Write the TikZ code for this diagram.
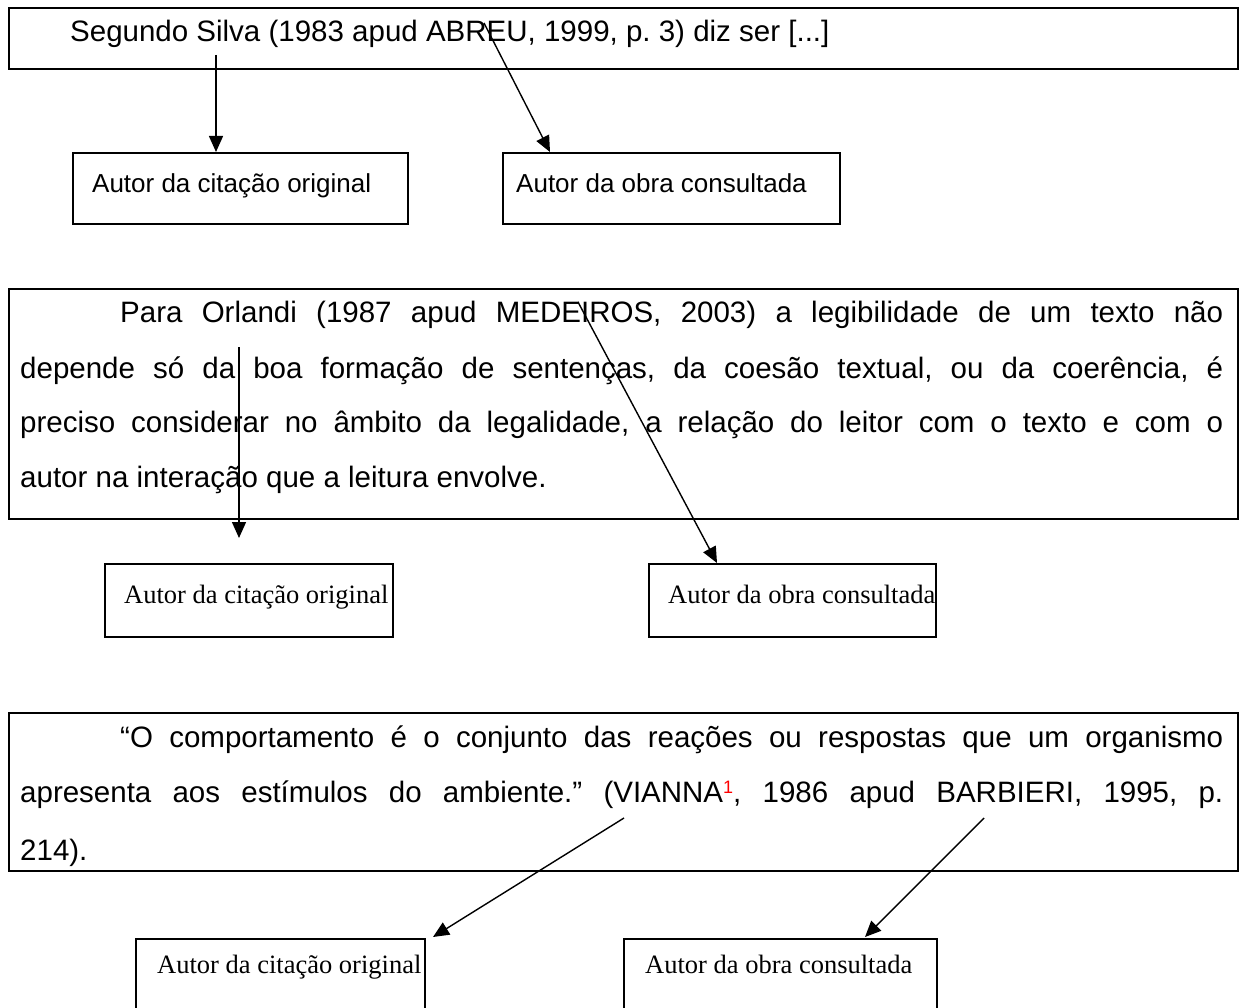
\documentclass[tikz,border=0pt]{standalone}
\usepackage{fontspec}
\setmainfont{Liberation Sans}
\newfontfamily\tnr{Liberation Serif}
\usetikzlibrary{arrows.meta,calc}
\frenchspacing
\begin{document}
\begin{tikzpicture}[x=1pt,y=-1pt,
  bigbox/.style={draw, line width=2pt, inner sep=0pt, anchor=north west},
  smallbox/.style={draw, line width=1.6pt, inner sep=0pt, anchor=north west},
  conn/.style={line width=1.4pt, -{Triangle[length=16pt,width=14pt]}},
  txt/.style={inner sep=0pt, anchor=base west, font=\fontsize{29.5}{35}\selectfont},
  lab/.style={inner sep=0pt, anchor=base west, font=\fontsize{26}{30}\selectfont},
  labs/.style={inner sep=0pt, anchor=base west, font=\tnr\fontsize{26.5}{30}\selectfont}]
\clip (0,0) rectangle (1242,1008);
\fill[white] (0,0) rectangle (1242,1008);

% ---------- block 1 ----------
\node[bigbox, minimum width=1229pt, minimum height=61pt] (top) at (8,7) {};
\node[txt] (t1) at (70,42) {Segundo Silva (1983 apud ABREU, 1999, p. 3) diz ser [...]};
\node[smallbox, minimum width=335pt, minimum height=71pt] (boxA) at (72,152) {};
\node[smallbox, minimum width=337pt, minimum height=71pt] (boxB) at (502,152) {};
\node[lab] (la) at (92,193) {Autor da citação original};
\node[lab] (lb) at (516,193) {Autor da obra consultada};
\coordinate (a1s) at (216,55);
\coordinate (a2s) at (484,23);
\coordinate (a2e) at ($(boxB.north west)+(48,0)$);
\draw[conn] (a1s) -- (a1s |- boxA.north west);
\draw[conn] (a2s) -- (a2e);

% ---------- block 2 ----------
\node[bigbox, minimum width=1229pt, minimum height=230pt] (mid) at (8,288) {};
\node[txt] (m1) at (120,323) {\makebox[1103pt][s]{Para Orlandi (1987 apud MEDEIROS, 2003) a legibilidade de um texto não}};
\node[txt] (m2) at (20,378) {\makebox[1203pt][s]{depende só da boa formação de sentenças, da coesão textual, ou da coerência, é}};
\node[txt] (m3) at (20,432) {\makebox[1203pt][s]{preciso considerar no âmbito da legalidade, a relação do leitor com o texto e com o}};
\node[txt] (m4) at (20,487) {autor na interação que a leitura envolve.};
\node[smallbox, minimum width=288pt, minimum height=73pt] (boxC) at (104,563) {};
\node[smallbox, minimum width=287pt, minimum height=73pt] (boxD) at (648,563) {};
\node[labs] (lc) at (124,603) {Autor da citação original};
\node[labs] (ld) at (668,603) {Autor da obra consultada};
\coordinate (b1s) at (239,347);
\coordinate (b2s) at (578,302);
\coordinate (b2e) at ($(boxD.north west)+(69,0)$);
\draw[conn] (b1s) -- (239,538);
\draw[conn] (b2s) -- (b2e);

% ---------- block 3 ----------
\node[bigbox, minimum width=1229pt, minimum height=158pt] (bot) at (8,712) {};
\node[txt] (n1) at (120,747) {\makebox[1103pt][s]{“O comportamento é o conjunto das reações ou respostas que um organismo}};
\node[txt] (n2) at (20,802) {\makebox[1203pt][s]{apresenta aos estímulos do ambiente.” (VIANNA\raisebox{9pt}{\fontsize{18}{18}\selectfont\color{red}1}, 1986 apud BARBIERI, 1995, p.}};
\node[txt] (n3) at (20,860) {214).};
\node[smallbox, minimum width=289pt, minimum height=90pt] (boxE) at (135,938) {};
\node[smallbox, minimum width=313pt, minimum height=90pt] (boxF) at (623,938) {};
\node[labs] (le) at (157,973) {Autor da citação original};
\node[labs] (lf) at (645,973) {Autor da obra consultada};
\coordinate (c1s) at (624,818);
\coordinate (c1e) at (433,937);
\coordinate (c2s) at (984,818);
\coordinate (c2e) at ($(boxF.north west)+(242,-1)$);
\draw[conn] (c1s) -- (c1e);
\draw[conn] (c2s) -- (c2e);
\end{tikzpicture}
\end{document}
